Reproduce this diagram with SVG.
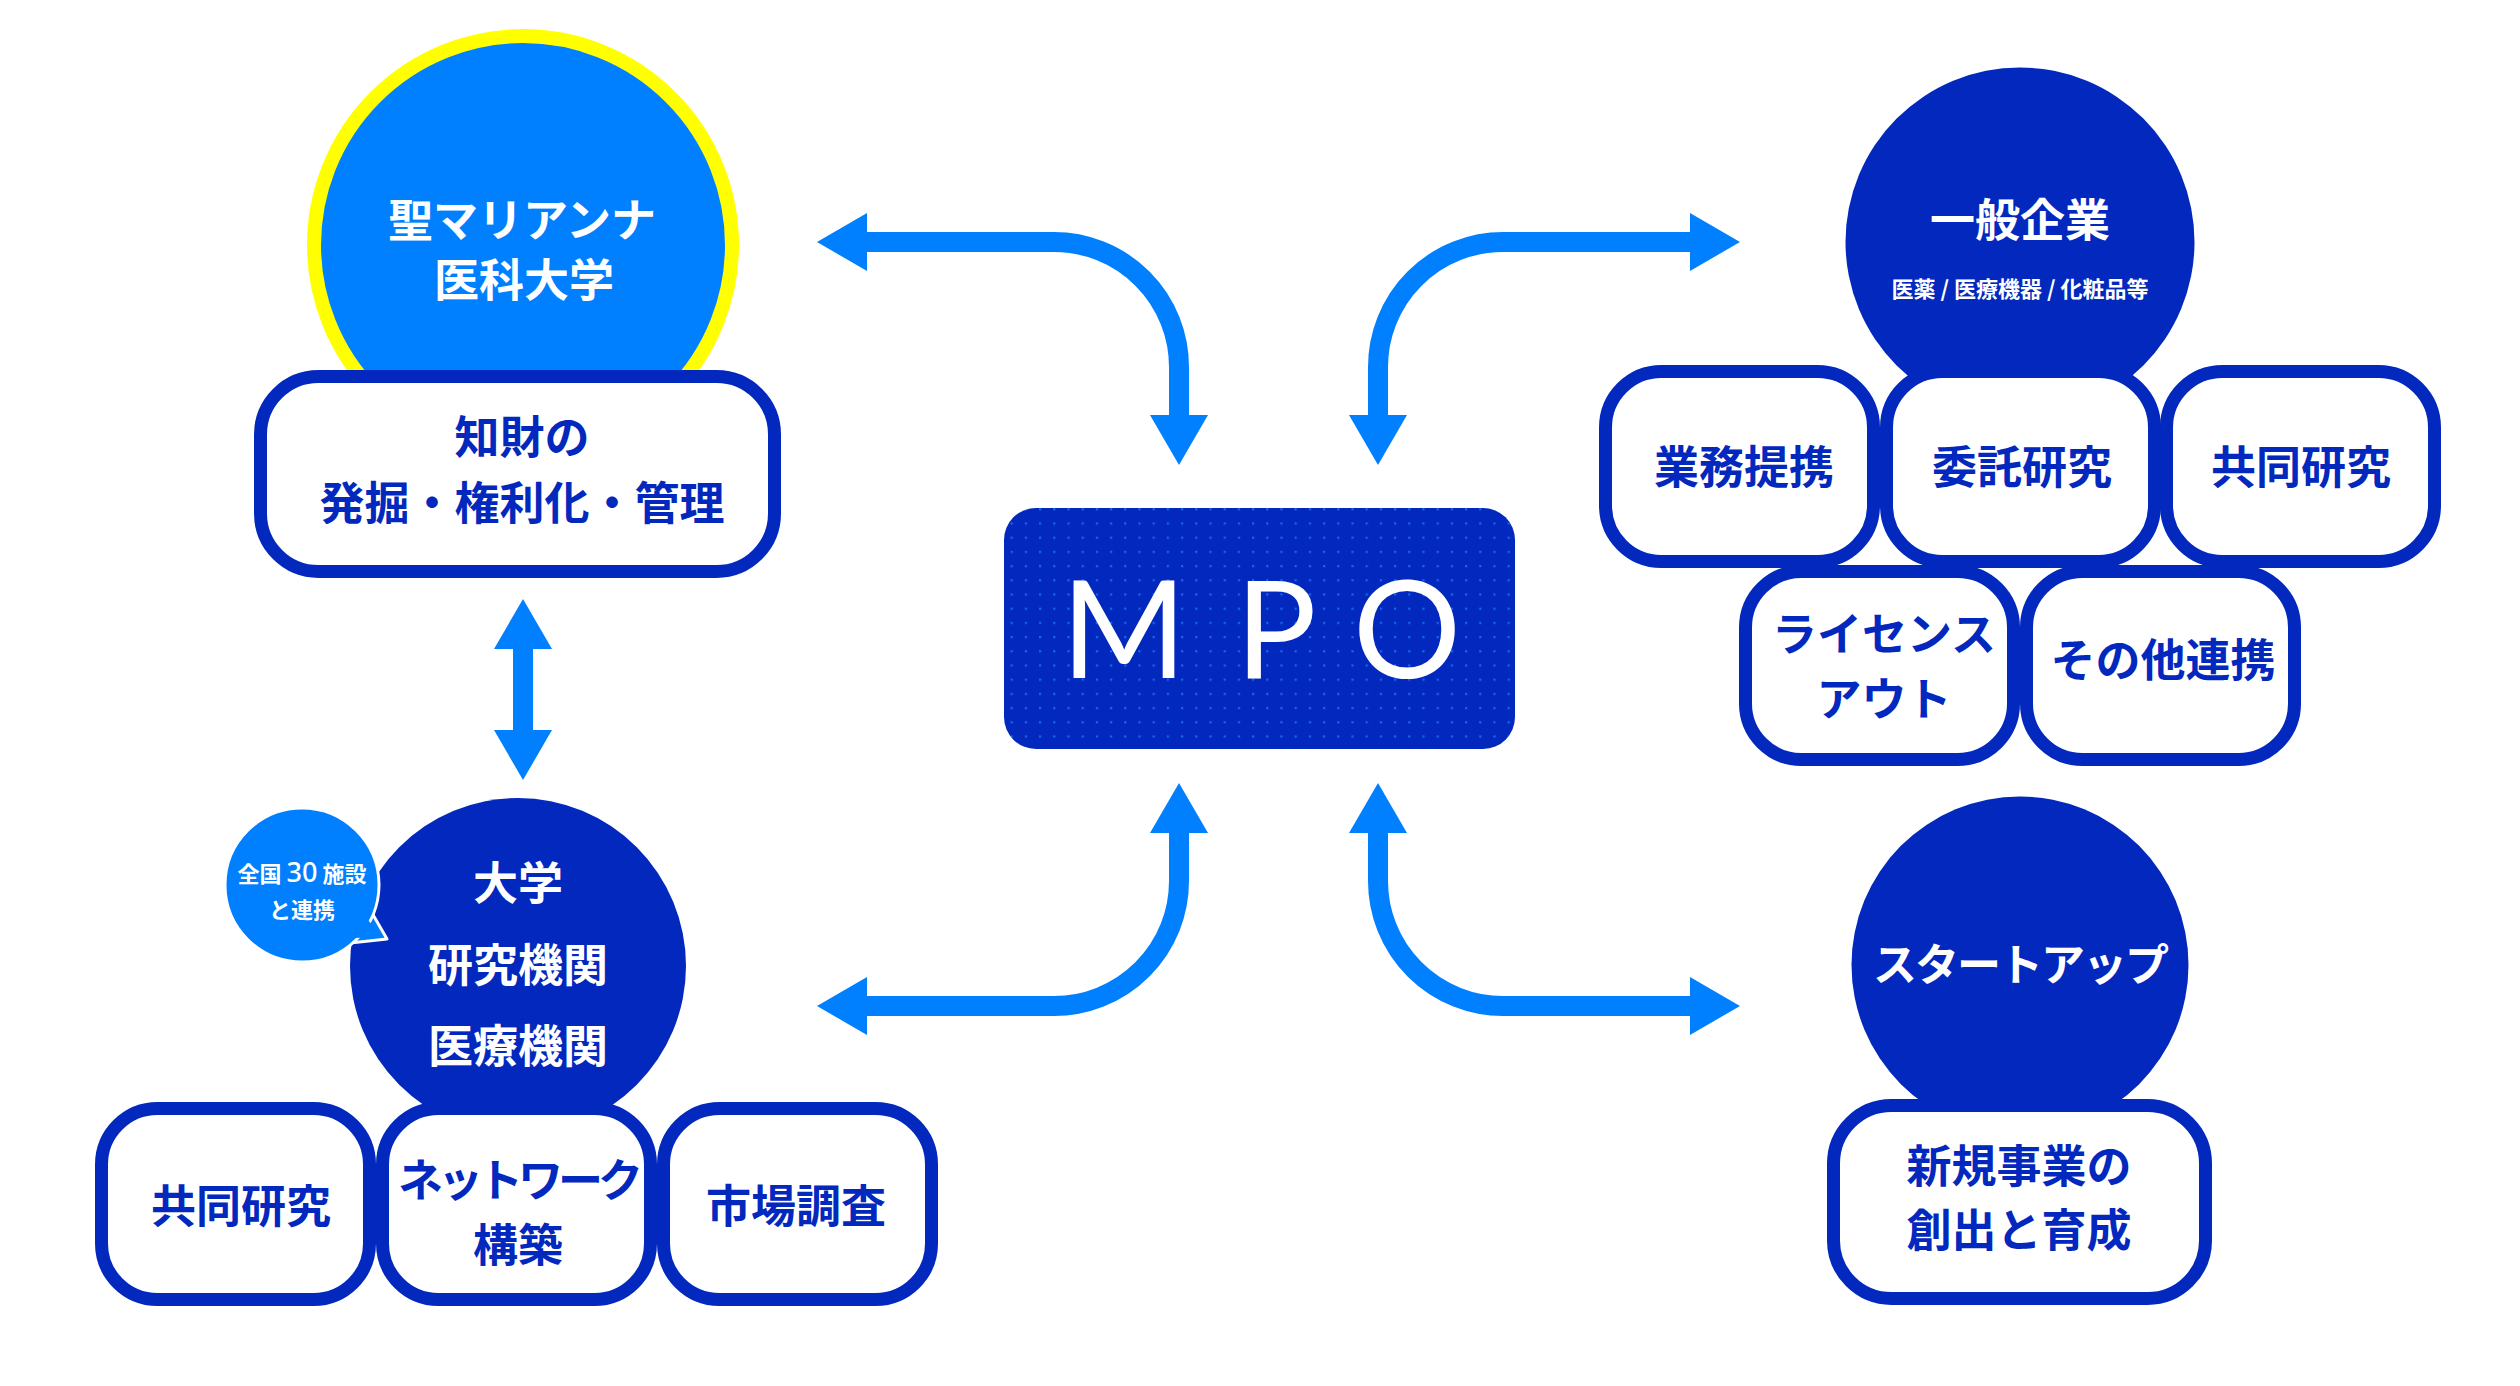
<svg xmlns="http://www.w3.org/2000/svg" width="2520" height="1386" viewBox="0 0 2520 1386">
<defs>
<style>
.jp{font-family:"Noto Sans CJK JP","Noto Sans CJK SC",sans-serif;font-weight:700;text-anchor:middle}
.w{fill:#FFFFFF}
.d{fill:#0228BE}
.f45{font-size:45px}
.box{fill:#FFFFFF;stroke:#0228BE;stroke-width:13}
.dark{fill:#0228BE}
.conn{fill:none;stroke:#0080FF;stroke-width:20}
</style>
<marker id="ah" markerUnits="userSpaceOnUse" markerWidth="52" markerHeight="60" viewBox="0 0 52 60" refX="2" refY="30" orient="auto-start-reverse">
<path d="M0,1 L50,30 L0,59 Z" fill="#0080FF"/>
</marker>
<pattern id="dots" patternUnits="userSpaceOnUse" x="1010.6" y="508.2" width="14.2" height="14.2">
<rect x="0" y="0" width="2.2" height="2.2" fill="#1E7BFF" opacity="0.75"/>
</pattern>
</defs>
<rect width="2520" height="1386" fill="#FFFFFF"/>

<g id="connectors">
<path class="conn" d="M865 242 H1054 A125 125 0 0 1 1179 367 V417" marker-start="url(#ah)" marker-end="url(#ah)"/>
<path class="conn" d="M1692 242 H1503 A125 125 0 0 0 1378 367 V417" marker-start="url(#ah)" marker-end="url(#ah)"/>
<path class="conn" d="M865 1006 H1054 A125 125 0 0 0 1179 881 V831" marker-start="url(#ah)" marker-end="url(#ah)"/>
<path class="conn" d="M1692 1006 H1503 A125 125 0 0 1 1378 881 V831" marker-start="url(#ah)" marker-end="url(#ah)"/>
<path class="conn" d="M523 647 V732" marker-start="url(#ah)" marker-end="url(#ah)"/>
</g>

<g id="mpo">
<rect x="1004" y="508" width="511" height="241" rx="32" fill="#0228BE"/>
<rect x="1004" y="508" width="511" height="241" rx="32" fill="url(#dots)"/>
<text font-family="Lato, 'Noto Sans', sans-serif" font-size="135" font-weight="400" fill="#FFFFFF" text-anchor="middle" y="678"><tspan x="1124">M</tspan><tspan x="1276">P</tspan><tspan x="1407">O</tspan></text>
</g>

<g id="st-marianna">
<circle cx="523" cy="245" r="209" fill="#0080FF" stroke="#FFFF00" stroke-width="14"/>
<text class="jp w f45" x="522" y="237">聖マリアンナ</text>
<text class="jp w f45" x="524" y="297">医科大学</text>
</g>
<g id="ip-box">
<rect class="box" x="260.5" y="376.5" width="514" height="195" rx="58"/>
<text class="jp d f45" x="522" y="454">知財の</text>
<text class="jp d f45" x="522" y="520">発掘・権利化・管理</text>
</g>

<g id="univ">
<circle class="dark" cx="518" cy="966" r="168"/>
<text class="jp w f45" x="518" y="900">大学</text>
<text class="jp w f45" x="518" y="982">研究機関</text>
<text class="jp w f45" x="518" y="1063">医療機関</text>
</g>
<g id="bubble">
<path d="M372 913 L387 939 L350 943 Z" fill="#0080FF" stroke="#FFFFFF" stroke-width="3" stroke-linejoin="round"/>
<circle cx="302" cy="885" r="77" fill="#0080FF" stroke="#FFFFFF" stroke-width="3"/>
<path d="M366 918 L383 937 L352 938 Z" fill="#0080FF"/>
<text class="jp w" font-size="22" x="302" y="882">全国 <tspan font-size="27" font-family="'Noto Sans',sans-serif" font-weight="500">30</tspan> 施設</text>
<text class="jp w" font-size="22" x="302" y="918">と連携</text>
</g>
<g id="bl-joint">
<rect class="box" x="101.5" y="1108.5" width="268" height="191" rx="56"/>
<text class="jp d f45" x="241" y="1223">共同研究</text>
</g>
<g id="bl-network">
<rect class="box" x="382.5" y="1108.5" width="268" height="191" rx="56"/>
<text class="jp d f45" x="518" y="1197" letter-spacing="-5">ネットワーク</text>
<text class="jp d f45" x="518" y="1262">構築</text>
</g>
<g id="bl-market">
<rect class="box" x="663.5" y="1108.5" width="268" height="191" rx="56"/>
<text class="jp d f45" x="796" y="1223">市場調査</text>
</g>

<g id="company">
<circle class="dark" cx="2020" cy="242" r="174.5"/>
<text class="jp w f45" x="2020" y="237">一般企業</text>
<text class="jp w" font-size="22" x="2020" y="297">医薬 / 医療機器 / 化粧品等</text>
</g>
<g id="tr-business">
<rect class="box" x="1605.5" y="371.5" width="268" height="190" rx="56"/>
<text class="jp d f45" x="1744" y="484">業務提携</text>
</g>
<g id="tr-commission">
<rect class="box" x="1886.5" y="371.5" width="268" height="190" rx="56"/>
<text class="jp d f45" x="2022" y="484">委託研究</text>
</g>
<g id="tr-joint">
<rect class="box" x="2166.5" y="371.5" width="268" height="190" rx="56"/>
<text class="jp d f45" x="2301" y="484">共同研究</text>
</g>
<g id="tr-license">
<rect class="box" x="1745.5" y="571.5" width="268" height="188" rx="56"/>
<text class="jp d f45" x="1884" y="651">ライセンス</text>
<text class="jp d f45" x="1884" y="716">アウト</text>
</g>
<g id="tr-other">
<rect class="box" x="2026.5" y="571.5" width="268" height="188" rx="56"/>
<text class="jp d f45" x="2163" y="677">その他連携</text>
</g>

<g id="startup">
<circle class="dark" cx="2020" cy="965" r="168.5"/>
<text class="jp w" font-size="44" x="2020" y="981" letter-spacing="-2">スタートアップ</text>
</g>
<g id="startup-box">
<rect class="box" x="1833.5" y="1105.5" width="372" height="193" rx="58"/>
<text class="jp d f45" x="2019" y="1183">新規事業の</text>
<text class="jp d f45" x="2019" y="1247">創出と育成</text>
</g>
</svg>
